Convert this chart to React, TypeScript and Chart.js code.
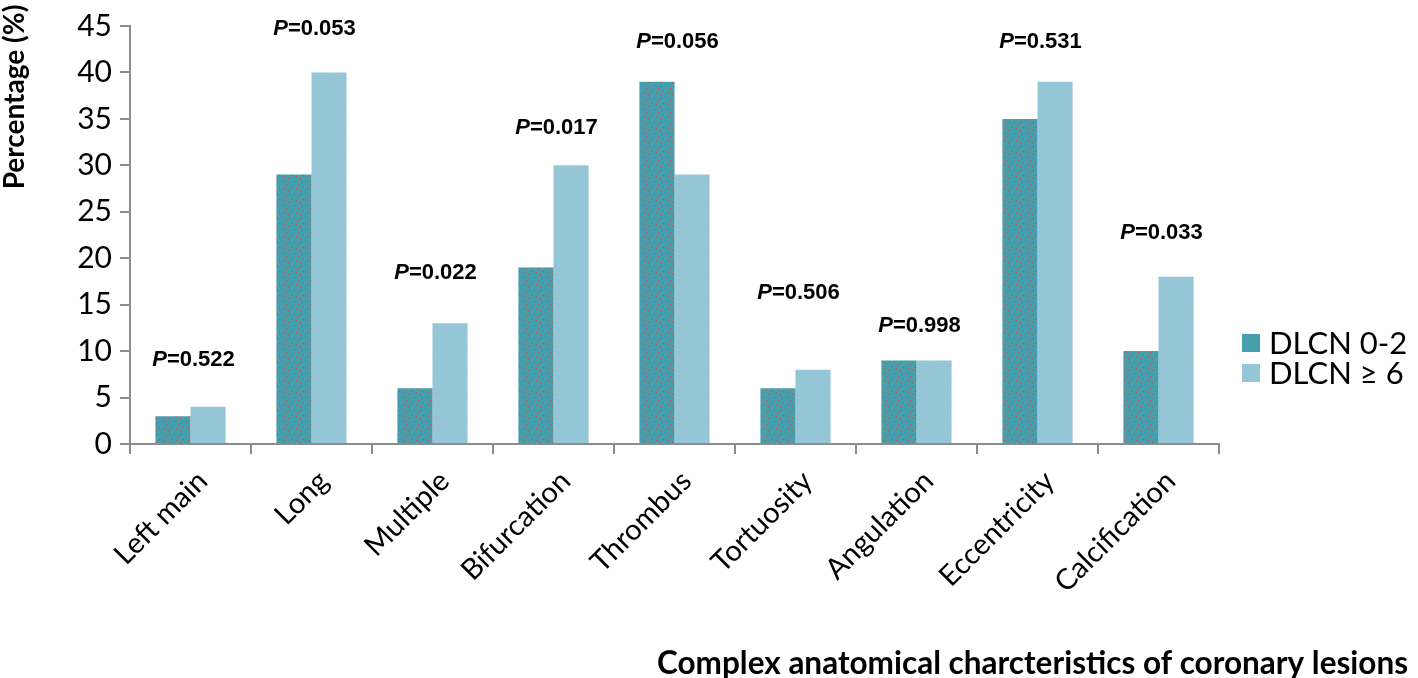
import React, { useEffect, useRef } from "react";
import { Chart, registerables } from "chart.js";

Chart.register(...registerables);

const categories = ["Left main", "Long", "Multiple", "Bifurcation", "Thrombus", "Tortuosity", "Angulation", "Eccentricity", "Calcification"];
const dlcnLow = [3, 29, 6, 19, 39, 6, 9, 35, 10];
const dlcnHigh = [4, 40, 13, 30, 29, 8, 9, 39, 18];
const pValues = ["0.522", "0.053", "0.022", "0.017", "0.056", "0.506", "0.998", "0.531", "0.033"];
const pLabelY = [9.0, 44.7, 18.4, 34.0, 43.3, 16.3, 12.75, 43.3, 22.7];
const seriesNames = ["DLCN 0-2", "DLCN \u2265 6"];
const yTicks = [0, 5, 10, 15, 20, 25, 30, 35, 40, 45];
const yTitle = "Percentage (%)";
const xTitle = "Complex anatomical charcteristics of coronary lesions";

const FONT = "Lato, 'Open Sans', sans-serif";

function makePattern(base: string, dot: string, density: number): CanvasPattern | string {
  const c = document.createElement("canvas");
  c.width = 12;
  c.height = 12;
  const ctx = c.getContext("2d");
  if (!ctx) return base;
  ctx.fillStyle = base;
  ctx.fillRect(0, 0, 12, 12);
  ctx.fillStyle = dot;
  const pts = [[1, 2], [6, 1], [10, 4], [3, 7], [8, 8], [0, 10], [5, 11], [11, 9]];
  for (let i = 0; i < Math.min(density, pts.length); i++) {
    ctx.fillRect(pts[i][0], pts[i][1], 1, 1);
  }
  const p = ctx.createPattern(c, "repeat");
  return p || base;
}

export default function App() {
  const ref = useRef<HTMLCanvasElement>(null);
  useEffect(() => {
    if (!ref.current) return;
    const darkFill = makePattern("#479fae", "#9a5a5a", 6);
    const lightFill = makePattern("#94c6d8", "#a9d0de", 4);
    const colors = [darkFill, lightFill];
    const swatch = ["#479fae", "#94c6d8"];

    const annotations = {
      id: "annotations",
      afterDatasetsDraw(chart: any) {
        const ctx = chart.ctx;
        const xs = chart.scales.x;
        const ys = chart.scales.y;
        ctx.save();
        // P-values
        ctx.textBaseline = "middle";
        for (let i = 0; i < categories.length; i++) {
          const cx = xs.getPixelForValue(i);
          const cy = ys.getPixelForValue(pLabelY[i]);
          ctx.font = "italic bold 22px 'Liberation Sans', Arial, sans-serif";
          const pW = ctx.measureText("P").width;
          ctx.font = "bold 22px 'Liberation Sans', Arial, sans-serif";
          const rest = "=" + pValues[i];
          const rW = ctx.measureText(rest).width;
          const start = cx - (pW + rW) / 2 + 3;
          ctx.fillStyle = "#000";
          ctx.textAlign = "left";
          ctx.font = "italic bold 22px 'Liberation Sans', Arial, sans-serif";
          ctx.fillText("P", start, cy);
          ctx.font = "bold 22px 'Liberation Sans', Arial, sans-serif";
          ctx.fillText(rest, start + pW, cy);
        }
        // Legend
        const lx = 1236;
        const ly = [343, 373];
        ctx.font = `31px ${FONT}`;
        for (let i = 0; i < 2; i++) {
          ctx.fillStyle = swatch[i];
          ctx.fillRect(lx + 6, ly[i] - 9, 18, 18);
          ctx.fillStyle = "#000";
          ctx.textAlign = "left";
          ctx.fillText(seriesNames[i], lx + 33, ly[i] + 1);
        }
        // Y title
        ctx.save();
        ctx.translate(15, 97);
        ctx.rotate(-Math.PI / 2);
        ctx.font = `bold 28px ${FONT}`;
        ctx.textAlign = "center";
        ctx.fillText(yTitle, 0, 0);
        ctx.restore();
        // X title
        ctx.font = `bold 31.5px ${FONT}`;
        ctx.textAlign = "right";
        ctx.fillText(xTitle, 1408, 664);
        ctx.restore();
      },
    };

    const chart = new Chart(ref.current, {
      type: "bar",
      data: {
        labels: categories,
        datasets: [
          { label: seriesNames[0], data: dlcnLow, backgroundColor: colors[0] as any, borderWidth: 0 },
          { label: seriesNames[1], data: dlcnHigh, backgroundColor: colors[1] as any, borderWidth: 0 },
        ],
      },
      options: {
        animation: false,
        responsive: false,
        maintainAspectRatio: false,
        layout: { padding: { top: 24, right: 199, left: 0, bottom: 0 } },
        datasets: { bar: { categoryPercentage: 0.58, barPercentage: 1 } },
        plugins: { legend: { display: false }, tooltip: { enabled: false } },
        scales: {
          x: {
            grid: { display: true, drawOnChartArea: false, drawTicks: true, tickLength: 10, color: "#8c8c8c", lineWidth: 2, offset: true },
            border: { display: true, color: "#8c8c8c", width: 2 },
            ticks: { color: "#000", font: { family: FONT, size: 29 }, minRotation: 45, maxRotation: 45, padding: 10, labelOffset: 12, autoSkip: false },
            afterFit: (s: any) => { s.height = 234; },
          },
          y: {
            min: 0,
            max: 45,
            afterBuildTicks: (s: any) => { s.ticks = yTicks.map((v) => ({ value: v })); },
            grid: { display: true, drawOnChartArea: false, drawTicks: true, tickLength: 10, color: "#8c8c8c", lineWidth: 2 },
            border: { display: true, color: "#8c8c8c", width: 2 },
            ticks: { color: "#000", font: { family: FONT, size: 30 }, padding: 8 },
            afterFit: (s: any) => { s.width = 130; },
          },
        },
      },
      plugins: [annotations],
    });
    return () => chart.destroy();
  }, []);
  return (
    <div style={{ position: "fixed", left: 0, top: 0, width: 1418, height: 678, background: "#fff" }}>
      <canvas ref={ref} width={1418} height={678} style={{ width: 1418, height: 678 }} />
    </div>
  );
}
